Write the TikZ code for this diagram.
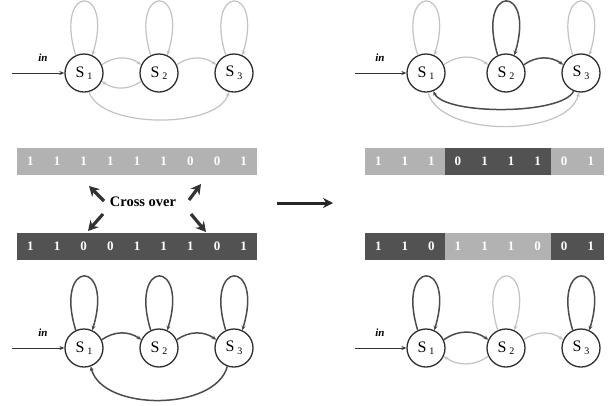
\documentclass[tikz,border=0pt]{standalone}
\usepackage{fontspec}
\setmainfont{Liberation Serif}
\usetikzlibrary{arrows.meta}
\newcommand{\stlab}[1]{S\,\raisebox{-0.35ex}{\fontsize{10}{10}\selectfont #1}}
\begin{document}
\begin{tikzpicture}[x=1pt,y=1pt,
 st/.style={circle,draw=black!82,line width=1.3pt,minimum size=38pt,inner sep=0pt,font=\fontsize{16}{16}\selectfont},
 lt/.style={draw=black!24,line width=1.2pt,-{Stealth[length=4.5pt,width=4pt]}},
 dk/.style={draw=black!70,line width=1.5pt,-{Stealth[length=4.5pt,width=4pt]}},
 inarr/.style={draw=black!80,line width=0.9pt,-{Stealth[length=5pt,width=4pt]}},
 inlbl/.style={font=\bfseries\itshape\fontsize{11}{11}\selectfont},
 digit/.style={text=white,font=\bfseries\fontsize{13}{13}\selectfont,inner sep=0pt},
 fat/.style={draw=black!80,line width=3.2pt,-{Stealth[length=10pt,width=11pt]}},
 barL/.style={fill=black!30},
 barD/.style={fill=black!68},
]
\useasboundingbox (0,0) rectangle (612,-405);

% ---------- top-left FSM ----------
\node[st] (a1) at (84,-73) {\stlab{1}};
\node[st] (a2) at (159,-73) {\stlab{2}};
\node[st] (a3) at (234,-73) {\stlab{3}};
\coordinate (ain) at (12,-73);
\draw[inarr] (ain) -- (a1.west);
\node[inlbl] (ainl) at (43,-58) {in};
\draw[lt] (a1.115) .. controls +(-22,72) and +(22,72) .. (a1.65);
\draw[lt] (a2.115) .. controls +(-22,72) and +(22,72) .. (a2.65);
\draw[lt] (a3.115) .. controls +(-22,72) and +(22,72) .. (a3.65);
\draw[lt] (a1.25) to[bend left=35] (a2.155);
\draw[lt] (a2.205) to[bend left=35] (a1.335);
\draw[lt] (a2.25) to[bend left=35] (a3.155);
\draw[lt] (a1.-75) .. controls +(12,-37) and +(-12,-37) .. (a3.-105);

% ---------- bottom-left FSM ----------
\node[st] (b1) at (84,-348) {\stlab{1}};
\node[st] (b2) at (159,-348) {\stlab{2}};
\node[st] (b3) at (234,-348) {\stlab{3}};
\coordinate (bin) at (12,-348);
\draw[inarr] (bin) -- (b1.west);
\node[inlbl] (binl) at (43,-333) {in};
\draw[dk] (b1.115) .. controls +(-22,72) and +(22,72) .. (b1.65);
\draw[dk] (b2.115) .. controls +(-22,72) and +(22,72) .. (b2.65);
\draw[dk] (b3.115) .. controls +(-22,72) and +(22,72) .. (b3.65);
\draw[dk] (b1.25) to[bend left=35] (b2.155);
\draw[dk] (b2.25) to[bend left=35] (b3.155);
\draw[dk] (b3.-110) .. controls +(-12,-45) and +(12,-45) .. (b1.-70);

% ---------- top-right FSM ----------
\node[st] (c1) at (426,-73) {\stlab{1}};
\node[st] (c2) at (506,-73) {\stlab{2}};
\node[st] (c3) at (581,-73) {\stlab{3}};
\coordinate (cin) at (355,-73);
\draw[inarr] (cin) -- (c1.west);
\node[inlbl] (cinl) at (380,-58) {in};
\draw[lt] (c1.115) .. controls +(-22,72) and +(22,72) .. (c1.65);
\draw[dk] (c2.115) .. controls +(-22,72) and +(22,72) .. (c2.65);
\draw[lt] (c3.115) .. controls +(-22,72) and +(22,72) .. (c3.65);
\draw[lt] (c1.25) to[bend left=35] (c2.155);
\draw[dk] (c2.25) to[bend left=35] (c3.155);
\draw[dk] (c3.-112) .. controls +(-12,-24) and +(12,-24) .. (c1.-68);
\draw[lt] (c1.-84) .. controls +(12,-45) and +(-12,-45) .. (c3.-96);

% ---------- bottom-right FSM ----------
\node[st] (d1) at (426,-348) {\stlab{1}};
\node[st] (d2) at (506,-348) {\stlab{2}};
\node[st] (d3) at (581,-348) {\stlab{3}};
\coordinate (din) at (355,-348);
\draw[inarr] (din) -- (d1.west);
\node[inlbl] (dinl) at (380,-333) {in};
\draw[dk] (d1.115) .. controls +(-22,72) and +(22,72) .. (d1.65);
\draw[lt] (d2.115) .. controls +(-22,72) and +(22,72) .. (d2.65);
\draw[dk] (d3.115) .. controls +(-22,72) and +(22,72) .. (d3.65);
\draw[dk] (d1.25) to[bend left=35] (d2.155);
\draw[lt] (d2.205) to[bend left=35] (d1.335);
\draw[lt] (d2.25) to[bend left=35] (d3.155);

% ---------- bars ----------
\fill[barL] (17,-148) rectangle (257,-175);
\foreach \b [count=\i] in {1,1,1,1,1,1,0,0,1}
  \node[digit] (tl\i) at ({17+26.67*(\i-0.5)},-161.5) {\b};
\fill[barD] (17,-233) rectangle (257,-260);
\foreach \b [count=\i] in {1,1,0,0,1,1,1,0,1}
  \node[digit] (bl\i) at ({17+26.67*(\i-0.5)},-246.5) {\b};

\fill[barL] (365,-148) rectangle (444.7,-175);
\fill[barD] (444.7,-148) rectangle (550.9,-175);
\fill[barL] (550.9,-148) rectangle (604,-175);
\foreach \b [count=\i] in {1,1,1,0,1,1,1,0,1}
  \node[digit] (tr\i) at ({365+26.56*(\i-0.5)},-161.5) {\b};
\fill[barD] (365,-233) rectangle (444.7,-260);
\fill[barL] (444.7,-233) rectangle (550.9,-260);
\fill[barD] (550.9,-233) rectangle (604,-260);
\foreach \b [count=\i] in {1,1,0,1,1,1,0,0,1}
  \node[digit] (br\i) at ({365+26.56*(\i-0.5)},-246.5) {\b};

% ---------- cross over ----------
\node[font=\bfseries\fontsize{14.5}{14.5}\selectfont] (co) at (143,-202) {Cross over};
\coordinate (ult) at (104,-201); \coordinate (ulh) at (89,-186);
\coordinate (urt) at (189,-200); \coordinate (urh) at (201,-184);
\coordinate (llt) at (103,-214); \coordinate (llh) at (88,-231);
\coordinate (lrt) at (191,-214); \coordinate (lrh) at (206,-232);
\draw[fat] (ult) -- (ulh);
\draw[fat] (urt) -- (urh);
\draw[fat] (llt) -- (llh);
\draw[fat] (lrt) -- (lrh);

\coordinate (m1) at (277,-203); \coordinate (m2) at (333,-203);
\draw[draw=black!85,line width=3pt,-{Stealth[length=10pt,width=10pt]}] (m1) -- (m2);
\end{tikzpicture}
\end{document}
